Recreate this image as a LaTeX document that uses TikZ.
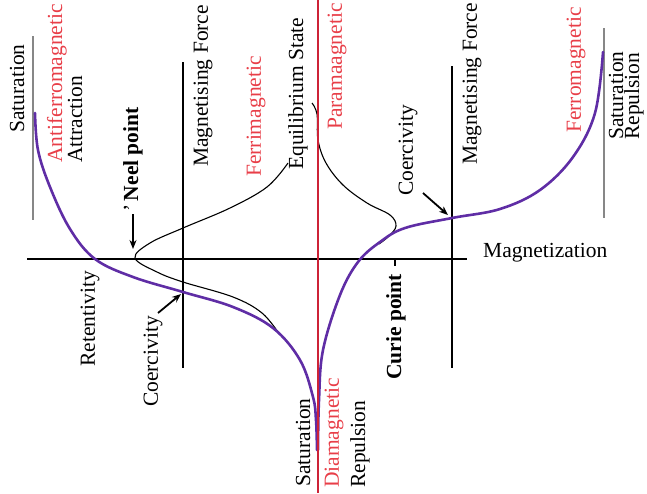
\documentclass[tikz,border=0pt]{standalone}
\usepackage{fontspec}
\setmainfont{Liberation Serif}
\usetikzlibrary{arrows.meta}
\definecolor{purp}{RGB}{95,45,165}
\definecolor{redline}{RGB}{205,35,55}
\definecolor{redtext}{RGB}{232,62,72}
\definecolor{grayline}{RGB}{135,135,135}
\begin{document}
\begin{tikzpicture}[x=1pt,y=-1pt,
  lab/.style={font=\fontsize{21.5}{24}\selectfont, inner sep=0pt, rotate=90, anchor=west},
  redlab/.style={lab, text=redtext},
  boldlab/.style={lab, font=\fontsize{21.5}{24}\selectfont\bfseries},
  hlab/.style={font=\fontsize{21.5}{24}\selectfont, inner sep=0pt, anchor=west},
  axisline/.style={line width=2pt},
  forceline/.style={line width=1.6pt},
  satline/.style={line width=1.8pt, grayline},
  redaxis/.style={line width=2pt, redline},
  curve/.style={line width=2.6pt, purp, line cap=round},
  thincurve/.style={line width=1.1pt},
  pointer/.style={line width=1.8pt, -{Stealth[length=9pt,width=7pt]}}]
\useasboundingbox (0,0) rectangle (647,493);
% labels
\node[lab] (satL) at (17,133) {Saturation};
\node[redlab] (antiferro) at (57,163) {Antiferromagnetic};
\node[lab] (attr) at (75,163) {Attraction};
\node[boldlab] (neel) at (133,212) {{\mdseries'}\,Neel point};
\node[lab] (mfL) at (203,167) {Magnetising Force};
\node[redlab] (ferri) at (256,177) {Ferrimagnetic};
\node[lab] (equil) at (298,170) {Equilibrium State};
\node[redlab] (para) at (337,130) {Paramaagnetic};
\node[lab] (coerR) at (408,196) {Coercivity};
\node[lab] (mfR) at (472,165) {Magnetising Force};
\node[redlab] (ferro) at (576,133) {Ferromagnetic};
\node[lab] (satR) at (616,140) {Saturation};
\node[lab] (repR) at (634,140) {Repulsion};
\node[hlab] (magn) at (483,253) {Magnetization};
\node[lab] (ret) at (90,367) {Retentivity};
\node[lab] (coerL) at (153,407) {Coercivity};
\node[lab] (satB) at (303,487) {Saturation};
\node[redlab] (dia) at (334,488) {Diamagnetic};
\node[lab] (repB) at (360,488) {Repulsion};
\node[boldlab] (curie) at (396,380) {Curie point};
% line end points
\coordinate (axL) at (27,259);
\coordinate (axR) at (467,259);
\coordinate (redT) at (318,0);
\coordinate (redB) at (318,493);
\coordinate (mfLt) at (183,62);
\coordinate (mfLb) at (183,368);
\coordinate (mfRt) at (452,66);
\coordinate (mfRb) at (452,368);
\coordinate (gLt) at (33,36);
\coordinate (gLb) at (33,220);
\coordinate (gRt) at (604,28);
\coordinate (gRb) at (604,218);
\coordinate (tickT) at (395,259);
\coordinate (tickB) at (395,266);
\coordinate (neelA) at (133,214);
\coordinate (neelB) at (133,249);
\coordinate (coLa) at (158,313);
\coordinate (coLb) at (181,294);
\coordinate (coRa) at (423,193);
\coordinate (coRb) at (448,215);
% straight lines
\draw[satline] (gLt) -- (gLb);
\draw[satline] (gRt) -- (gRb);
\draw[forceline] (mfLt) -- (mfLb);
\draw[forceline] (mfRt) -- (mfRb);
\draw[axisline] (axL) -- (axR);
\draw[line width=1.2pt] (tickT) -- (tickB);
% thin black curves
\draw[thincurve] plot[smooth, tension=0.6] coordinates {(288,163) (267,187) (230,208) (183,228) (150,243) (135,258) (157,272) (183,282) (233,297) (262,313) (280,335)};
\draw[thincurve] plot[smooth, tension=0.6] coordinates {(312,103) (317,114) (318,140) (326,163) (343,185) (367,203) (390,215) (396,226) (389,236) (379,244)};
% purple curve
\draw[curve] plot[smooth, tension=0.6] coordinates {(35,113) (38,150) (50,187) (70,229) (95,259) (133,277) (183,292) (233,307) (273,328) (300,360) (313,397) (316,420) (317,450)};
\draw[curve] plot[smooth, tension=0.6] coordinates {(318,450) (319,400) (323,350) (340,295) (358,262) (380,242) (405,228) (452,218) (500,209) (540,190) (573,157) (595,113) (603,52)};
% red line
\draw[redaxis] (redT) -- (redB);
% pointers
\draw[pointer] (neelA) -- (neelB);
\draw[pointer] (coLa) -- (coLb);
\draw[pointer] (coRa) -- (coRb);
\end{tikzpicture}
\end{document}
